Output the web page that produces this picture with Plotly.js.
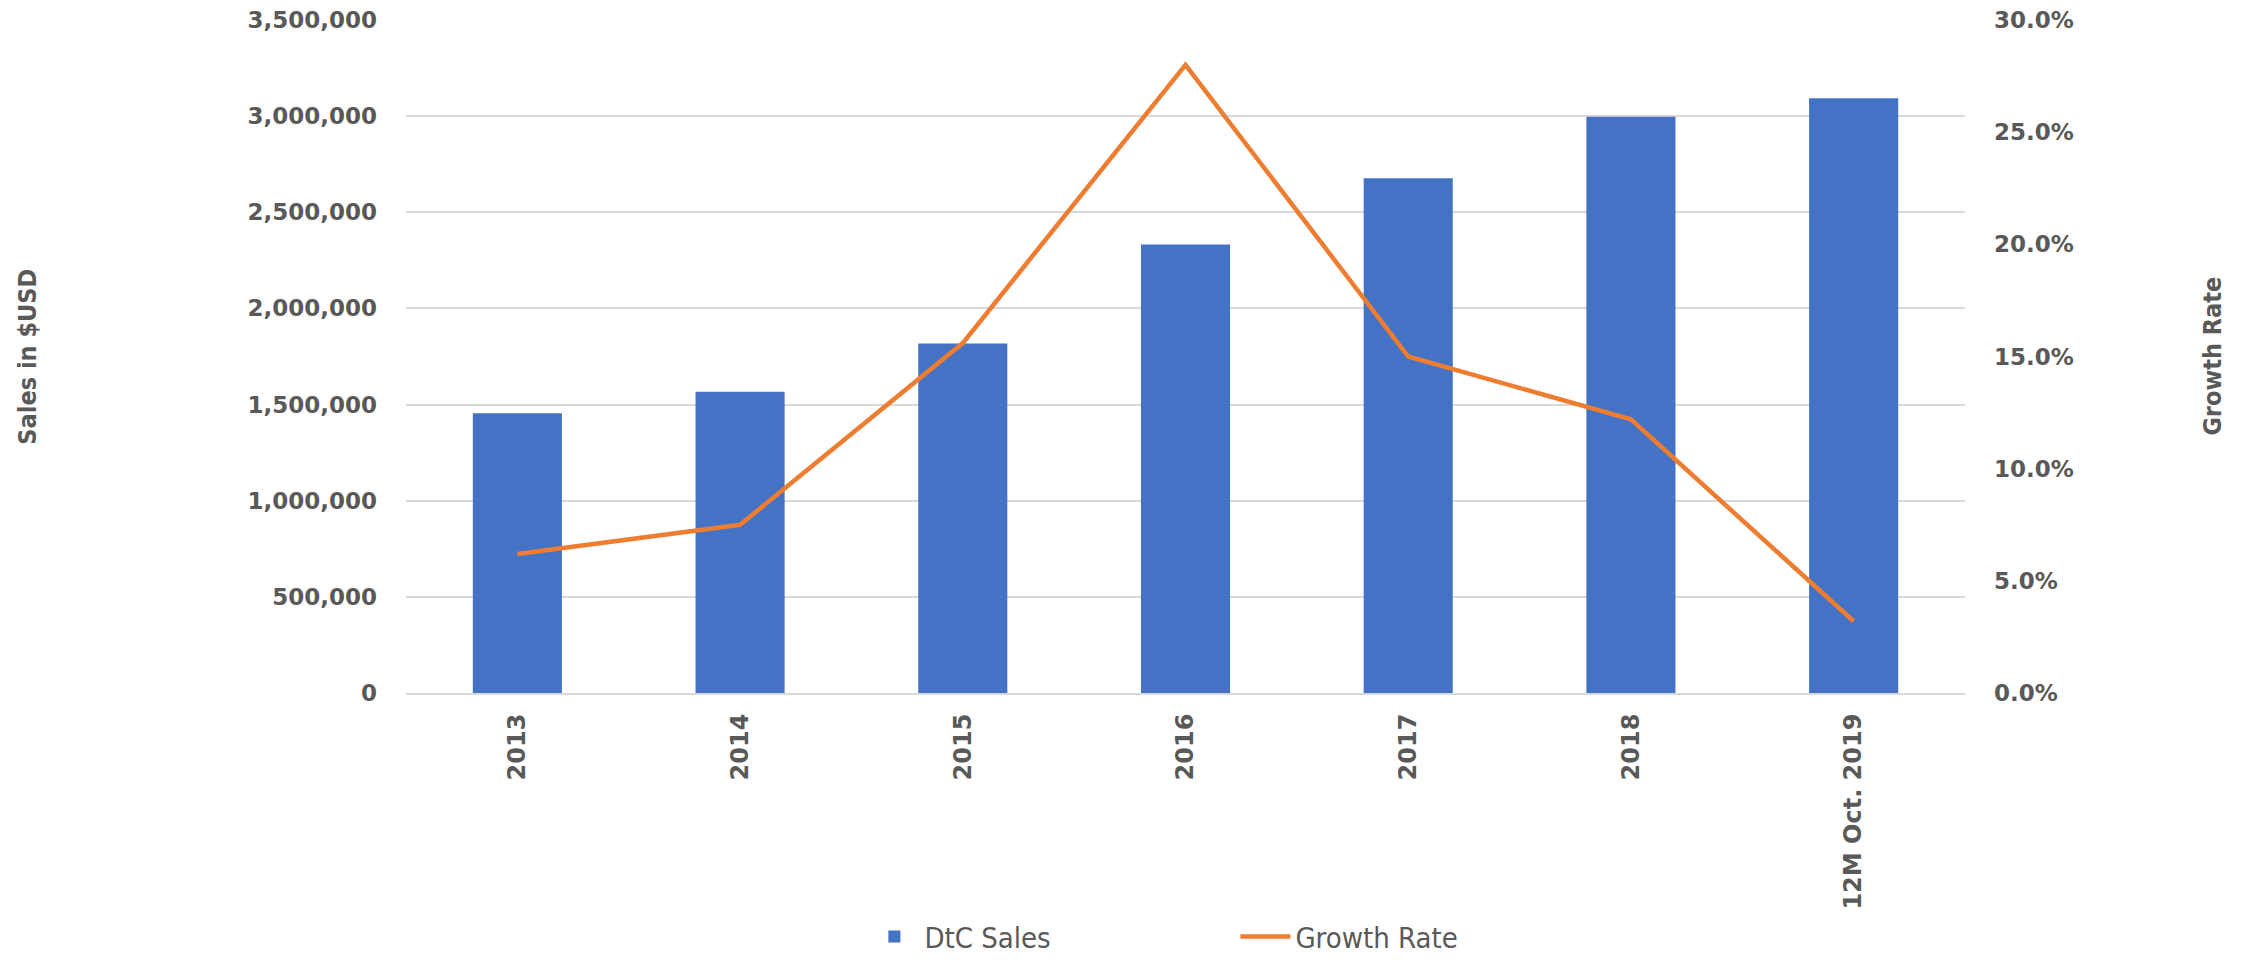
<!DOCTYPE html>
<html>
<head>
<meta charset="utf-8">
<script src="https://cdn.plot.ly/plotly-3.0.1.min.js"></script>
<style>html,body{margin:0;padding:0;background:#fff;}#chart{width:2244px;height:960px;}</style>
</head>
<body>
<div id="chart"></div>
<script>
const categories = ["2013", "2014", "2015", "2016", "2017", "2018", "12M Oct. 2019"];
const dtcSales = [1455000, 1567000, 1818000, 2332000, 2677000, 2997000, 3093000];
const growthRate = [0.062, 0.075, 0.156, 0.280, 0.150, 0.122, 0.032];
const salesTicks = [0, 500000, 1000000, 1500000, 2000000, 2500000, 3000000, 3500000];
const growthTicks = [0, 0.05, 0.10, 0.15, 0.20, 0.25, 0.30];

const tickFont = {family: "DejaVu Sans, Verdana, sans-serif", size: 23, color: "#595959", weight: "bold"};
const xTickFont = {family: "DejaVu Sans, Verdana, sans-serif", size: 24, color: "#595959", weight: "bold"};
const narrowFont = "Liberation Sans Narrow, DejaVu Sans Condensed, Arial Narrow, sans-serif";

const traces = [
  {
    type: "bar", name: "DtC Sales", x: categories, y: dtcSales,
    marker: {color: "#4472C4"}, yaxis: "y"
  },
  {
    type: "scatter", mode: "lines", name: "Growth Rate", x: categories, y: growthRate,
    line: {color: "#ED7D31", width: 4.5}, yaxis: "y2"
  }
];

const layout = {
  width: 2244, height: 960,
  margin: {l: 406, r: 279, t: 20, b: 267, autoexpand: false},
  paper_bgcolor: "#ffffff", plot_bgcolor: "#ffffff",
  bargap: 0.6,
  showlegend: true,
  xaxis: {
    type: "category", tickangle: -90, tickfont: xTickFont, automargin: false,
    showline: true, linecolor: "#d9d9d9", linewidth: 2,
    ticks: "", showgrid: false, ticklabelstandoff: 9
  },
  yaxis: {
    range: [0, 3500000], tickvals: salesTicks, tickformat: ",d", automargin: false,
    tickfont: tickFont, gridcolor: "#d9d9d9", gridwidth: 2,
    zeroline: false, ticks: "", ticklabelstandoff: 28
  },
  yaxis2: {
    range: [0, 0.30], tickvals: growthTicks, tickformat: ".1%", automargin: false,
    overlaying: "y", side: "right", showgrid: false, zeroline: false,
    tickfont: tickFont, ticks: "", ticklabelstandoff: 28
  },
  legend: {
    orientation: "h", x: 0.532, xanchor: "center", y: -0.362, yanchor: "middle",
    font: {family: narrowFont, size: 29, color: "#595959"},
    entrywidth: 306, itemwidth: 50
  },
  annotations: [
    {text: "Sales in $USD", xref: "paper", yref: "paper", x: -0.243, y: 0.5,
     xanchor: "center", yanchor: "middle", textangle: -90, showarrow: false,
     font: {family: narrowFont, size: 25, color: "#595959", weight: "bold"}},
    {text: "Growth Rate", xref: "paper", yref: "paper", x: 1.1585, y: 0.5,
     xanchor: "center", yanchor: "middle", textangle: -90, showarrow: false,
     font: {family: narrowFont, size: 25, color: "#595959", weight: "bold"}}
  ]
};

Plotly.newPlot("chart", traces, layout, {displayModeBar: false, staticPlot: true});
</script>
</body>
</html>
